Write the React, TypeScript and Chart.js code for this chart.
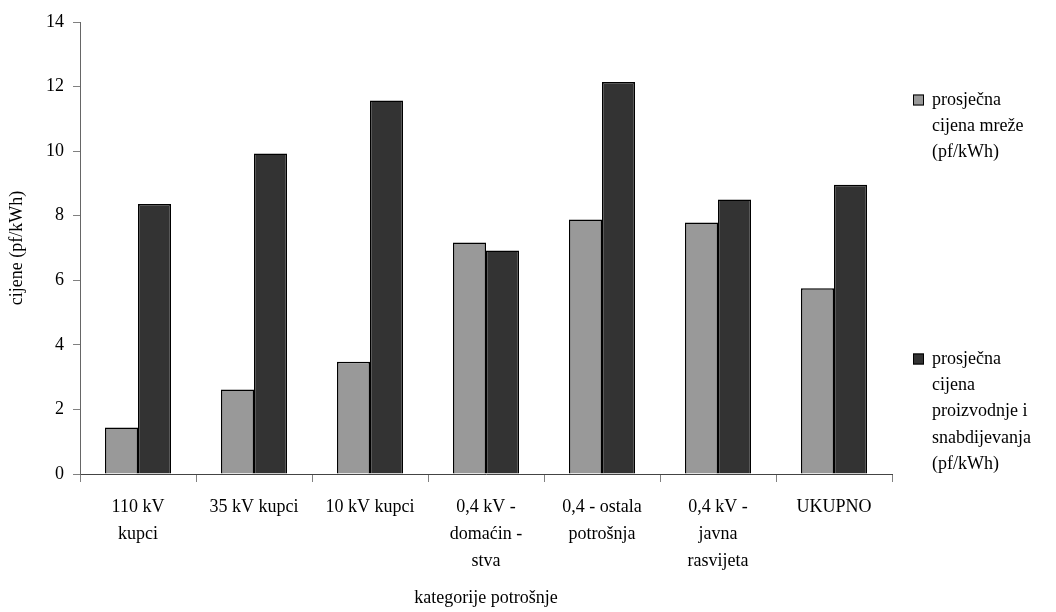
import React, { useEffect, useRef } from "react";
import { Chart, registerables } from "chart.js";

Chart.register(...registerables);

const categories: string[][] = [
  ["110 kV", "kupci"],
  ["35 kV kupci"],
  ["10 kV kupci"],
  ["0,4 kV -", "domaćin -", "stva"],
  ["0,4 - ostala", "potrošnja"],
  ["0,4 kV -", "javna", "rasvijeta"],
  ["UKUPNO"],
];

const cijenaMreze: number[] = [1.44, 2.62, 3.48, 7.17, 7.88, 7.79, 5.75];
const cijenaProizvodnje: number[] = [8.36, 9.93, 11.57, 6.92, 12.14, 8.5, 8.96];

const legendMreze: string[] = ["prosječna", "cijena mreže", "(pf/kWh)"];
const legendProizvodnje: string[] = ["prosječna", "cijena", "proizvodnje i", "snabdijevanja", "(pf/kWh)"];

const yTitle = "cijene (pf/kWh)";
const xTitle = "kategorije potrošnje";
const yMin = 0;
const yMax = 14;
const yStep = 2;

const FONT = "'Liberation Serif', 'Times New Roman', serif";

const legendPlugin = {
  id: "sideLegend",
  afterDraw(chart: any) {
    const ctx = chart.ctx;
    const area = chart.chartArea;
    const x0 = area.right + 21;
    const lineH = 26.3;
    const starts = [area.top + 78, area.top + 337];
    ctx.save();
    ctx.font = `18px ${FONT}`;
    ctx.textBaseline = "middle";
    ctx.textAlign = "left";
    chart.data.datasets.forEach((ds: any, i: number) => {
      const lines: string[] = ds.legendLines;
      const y = starts[i];
      ctx.fillStyle = ds.backgroundColor;
      ctx.fillRect(x0, y - 5.5, 11, 11);
      ctx.strokeStyle = "#000";
      ctx.lineWidth = 1;
      ctx.strokeRect(x0 + 0.5, y - 5, 10, 10);
      ctx.fillStyle = "#000";
      lines.forEach((t, j) => ctx.fillText(t, x0 + 19, y + j * lineH));
    });
    ctx.restore();
  },
};

export default function App() {
  const ref = useRef<HTMLCanvasElement | null>(null);
  useEffect(() => {
    if (!ref.current) return;
    const chart = new Chart(ref.current, {
      type: "bar",
      data: {
        labels: categories,
        datasets: [
          {
            label: legendMreze.join(" "),
            legendLines: legendMreze,
            data: cijenaMreze,
            backgroundColor: "#999999",
            borderColor: "#000000",
            borderWidth: 1.5,
            categoryPercentage: 0.569,
            barPercentage: 1,
          } as any,
          {
            label: legendProizvodnje.join(" "),
            legendLines: legendProizvodnje,
            data: cijenaProizvodnje,
            backgroundColor: "#333333",
            borderColor: "#000000",
            borderWidth: 1.5,
            categoryPercentage: 0.569,
            barPercentage: 1,
          } as any,
        ],
      },
      options: {
        responsive: false,
        animation: false,
        layout: { padding: { top: 22, right: 164, bottom: 0, left: 0 } },
        plugins: {
          legend: { display: false },
          tooltip: { enabled: false },
        },
        scales: {
          x: {
            offset: true,
            grid: {
              offset: true,
              drawOnChartArea: false,
              drawTicks: true,
              tickLength: 8,
              color: "#808080",
            },
            border: { color: "#444444", width: 1 },
            ticks: {
              color: "#000",
              font: { family: FONT, size: 18, lineHeight: 1.5 },
              padding: 12,
              maxRotation: 0,
              autoSkip: false,
            },
            title: {
              display: true,
              text: xTitle,
              color: "#000",
              font: { family: FONT, size: 18 },
              padding: { top: 0, bottom: 3 },
            },
            afterFit(scale: any) {
              scale.height = 138;
            },
          },
          y: {
            min: yMin,
            max: yMax,
            ticks: {
              stepSize: yStep,
              color: "#000",
              font: { family: FONT, size: 18 },
              padding: 9,
            },
            grid: {
              drawOnChartArea: false,
              drawTicks: true,
              tickLength: 7,
              color: "#808080",
            },
            border: { color: "#666666", width: 1 },
            title: {
              display: true,
              text: yTitle,
              color: "#000",
              font: { family: FONT, size: 18 },
              padding: { top: 6, bottom: 0 },
            },
            afterFit(scale: any) {
              scale.width = 80;
            },
          },
        },
      },
      plugins: [legendPlugin],
    } as any);
    return () => chart.destroy();
  }, []);
  return (
    <div style={{ position: "fixed", left: 0, top: 0, width: 1056, height: 612, background: "#fff" }}>
      <canvas ref={ref} width={1056} height={612} style={{ width: 1056, height: 612, display: "block" }} />
    </div>
  );
}
